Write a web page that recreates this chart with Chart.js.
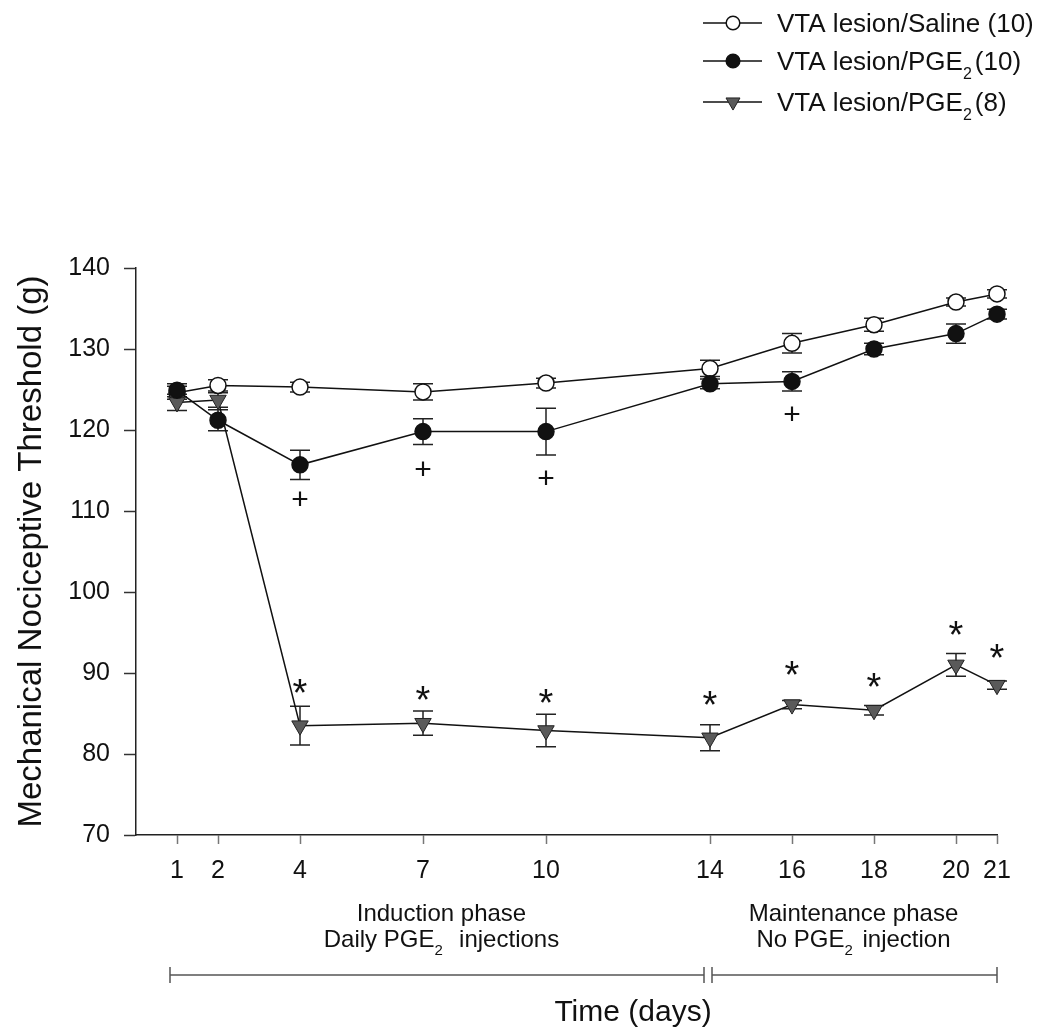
<!DOCTYPE html>
<html>
<head>
<meta charset="utf-8">
<title>Mechanical nociceptive threshold</title>
<script src="https://cdn.jsdelivr.net/npm/chart.js@4.4.1/dist/chart.umd.min.js"></script>
<style>
  html, body { margin: 0; padding: 0; background: #fff; }
  #wrap { width: 1051px; height: 1030px; }
</style>
</head>
<body>
<div id="wrap"><canvas id="chart1" width="1051" height="1030"></canvas></div>
<script>
const FONT = '"Liberation Sans", Arial, Helvetica, sans-serif';

// days of testing
const days = [1, 2, 4, 7, 10, 14, 16, 18, 20, 21];
const yTicks = [70, 80, 90, 100, 110, 120, 130, 140];

// VTA lesion / saline (n = 10)
const salineMean = [124.6, 125.5, 125.3, 124.7, 125.8, 127.6, 130.7, 133.0, 135.8, 136.8];
const salineSem  = [0.8, 0.7, 0.6, 1.0, 0.6, 1.0, 1.2, 0.8, 0.5, 0.5];

// VTA lesion / PGE2 (n = 10)
const pge10Mean = [124.9, 121.2, 115.7, 119.8, 119.8, 125.7, 126.0, 130.0, 131.9, 134.3];
const pge10Sem  = [0.8, 1.3, 1.8, 1.6, 2.9, 0.6, 1.2, 0.7, 1.2, 0.6];

// VTA lesion / PGE2 (n = 8)
const pge8Mean = [123.4, 123.7, 83.5, 83.8, 82.9, 82.0, 86.1, 85.4, 91.0, 88.5];
const pge8Sem  = [1.0, 0.9, 2.4, 1.5, 2.0, 1.6, 0.5, 0.6, 1.4, 0.5];

// significance marks (height in g, null = none)
const starLevels = [null, null, 88.6, 87.8, 87.4, 87.1, 90.8, 89.4, 95.8, 93.0];
const plusLevels = [null, null, 111.6, 115.3, 114.2, null, 122.0, null, null, null];

// legend entries, [text, subscript, text after]
const legendLabels = [
  ['VTA lesion/Saline (10)', '', ''],
  ['VTA lesion/PGE', '2', '(10)'],
  ['VTA lesion/PGE', '2', '(8)']
];

// phase captions under the axis
const phases = [
  { center: 7.45, lines: [['Induction phase'], ['Daily PGE', '2', '  injections']] },
  { center: 17.5, lines: [['Maintenance phase'], ['No PGE', '2', ' injection']] }
];

function font(size) { return size + 'px ' + FONT; }

// text with an optional subscript in the middle
function drawSubText(ctx, parts, x, y, size, align) {
  const subSize = Math.round(size * 0.62);
  const main = parts[0] || '';
  const sub = parts[1] || '';
  const tail = parts[2] || '';
  ctx.font = font(size);
  const w1 = ctx.measureText(main).width;
  const w3 = tail ? ctx.measureText(tail).width : 0;
  ctx.font = font(subSize);
  const w2 = sub ? ctx.measureText(sub).width + 3 : 0;
  const total = w1 + w2 + w3;
  let sx = align === 'left' ? x : x - total / 2;
  ctx.textAlign = 'left';
  ctx.textBaseline = 'alphabetic';
  ctx.font = font(size);
  ctx.fillText(main, sx, y);
  sx += w1;
  if (sub) {
    ctx.font = font(subSize);
    ctx.fillText(sub, sx, y + size * 0.33);
    sx += w2;
  }
  if (tail) {
    ctx.font = font(size);
    ctx.fillText(tail, sx, y);
  }
}

function markerPath(ctx, style, x, y, r) {
  ctx.beginPath();
  if (style === 'triangle') {
    // pointing down, same geometry as Chart.js with rotation 180
    for (let i = 0; i < 3; i++) {
      const a = Math.PI + i * 2 * Math.PI / 3;
      const px = x + Math.sin(a) * r, py = y - Math.cos(a) * r;
      if (i === 0) ctx.moveTo(px, py); else ctx.lineTo(px, py);
    }
    ctx.closePath();
  } else {
    ctx.arc(x, y, r, 0, Math.PI * 2);
  }
}

const extrasPlugin = {
  id: 'extras',
  beforeDatasetsDraw(chart) {
    // SEM bars with caps, under the markers
    const ctx = chart.ctx;
    const xs = chart.scales.x, ys = chart.scales.y;
    ctx.save();
    ctx.strokeStyle = '#222';
    ctx.lineWidth = 1.5;
    chart.data.datasets.forEach(ds => {
      ds.means.forEach((v, i) => {
        const e = ds.errors[i];
        const px = xs.getPixelForValue(days[i]);
        const top = ys.getPixelForValue(v + e), bot = ys.getPixelForValue(v - e);
        ctx.beginPath();
        ctx.moveTo(px, top); ctx.lineTo(px, bot);
        ctx.moveTo(px - 10, top); ctx.lineTo(px + 10, top);
        ctx.moveTo(px - 10, bot); ctx.lineTo(px + 10, bot);
        ctx.stroke();
      });
    });
    ctx.restore();
  },
  afterDraw(chart) {
    const ctx = chart.ctx;
    const xs = chart.scales.x, ys = chart.scales.y;
    ctx.save();
    ctx.fillStyle = '#111';

    // asterisks and plus signs
    ctx.textAlign = 'center';
    ctx.textBaseline = 'alphabetic';
    days.forEach((d, i) => {
      const px = xs.getPixelForValue(d);
      if (starLevels[i] != null) {
        ctx.font = font(38);
        ctx.fillText('*', px, ys.getPixelForValue(starLevels[i]) + 38 * 0.575);
      }
      if (plusLevels[i] != null) {
        ctx.font = font(30);
        ctx.fillText('+', px, ys.getPixelForValue(plusLevels[i]) + 30 * 0.353);
      }
    });

    // legend, top right
    const rows = [23, 61, 102];
    const byLegend = chart.data.datasets.slice().sort((a, b) => a.legendIndex - b.legendIndex);
    byLegend.forEach((ds, k) => {
      const y = rows[k];
      ctx.strokeStyle = '#111';
      ctx.lineWidth = 1.5;
      ctx.beginPath();
      ctx.moveTo(703, y); ctx.lineTo(762, y);
      ctx.stroke();
      markerPath(ctx, ds.pointStyle, 733, y, ds.pointRadius * 0.85);
      ctx.fillStyle = ds.pointBackgroundColor;
      ctx.fill();
      ctx.strokeStyle = ds.pointBorderColor;
      ctx.lineWidth = ds.pointBorderWidth;
      ctx.stroke();
      ctx.fillStyle = '#111';
      drawSubText(ctx, legendLabels[ds.legendIndex], 777, y + 9, 26, 'left');
    });

    // phase captions and brackets
    ctx.fillStyle = '#111';
    phases.forEach(p => {
      const cx = xs.getPixelForValue(p.center);
      drawSubText(ctx, p.lines[0], cx, 921, 24, 'center');
      drawSubText(ctx, p.lines[1], cx, 947, 24, 'center');
    });
    const barY = 975;
    const left = xs.getPixelForValue(1) - 7;
    const brk1 = xs.getPixelForValue(14) - 6;
    const brk2 = xs.getPixelForValue(14) + 2;
    const right = xs.getPixelForValue(21);
    ctx.strokeStyle = '#555';
    ctx.lineWidth = 1.5;
    ctx.beginPath();
    ctx.moveTo(left, barY); ctx.lineTo(brk1, barY);
    ctx.moveTo(brk2, barY); ctx.lineTo(right, barY);
    [left, brk1, brk2, right].forEach(x => {
      ctx.moveTo(x, barY - 8); ctx.lineTo(x, barY + 8);
    });
    ctx.stroke();

    ctx.fillStyle = '#111';
    ctx.font = font(30);
    ctx.textAlign = 'center';
    ctx.textBaseline = 'alphabetic';
    ctx.fillText('Time (days)', 633, 1021);
    ctx.restore();
  }
};

function series(means) {
  return means.map((v, i) => ({ x: days[i], y: v }));
}

const ctx = document.getElementById('chart1').getContext('2d');
const chart = new Chart(ctx, {
  type: 'line',
  data: {
    datasets: [
      {
        legendIndex: 1,
        order: 0,
        data: series(pge10Mean),
        means: pge10Mean,
        errors: pge10Sem,
        borderColor: '#111',
        borderWidth: 1.5,
        pointStyle: 'circle',
        pointRadius: 8,
        pointBackgroundColor: '#111',
        pointBorderColor: '#111',
        pointBorderWidth: 1.5
      },
      {
        legendIndex: 2,
        order: 1,
        data: series(pge8Mean),
        means: pge8Mean,
        errors: pge8Sem,
        borderColor: '#111',
        borderWidth: 1.5,
        pointStyle: 'triangle',
        pointRotation: 180,
        pointRadius: 9.5,
        pointBackgroundColor: '#5a5a5a',
        pointBorderColor: '#222',
        pointBorderWidth: 1
      },
      {
        legendIndex: 0,
        order: 2,
        data: series(salineMean),
        means: salineMean,
        errors: salineSem,
        borderColor: '#111',
        borderWidth: 1.5,
        pointStyle: 'circle',
        pointRadius: 8,
        pointBackgroundColor: '#fff',
        pointBorderColor: '#111',
        pointBorderWidth: 1.5
      }
    ]
  },
  options: {
    responsive: false,
    animation: false,
    clip: false,
    layout: { padding: { top: 268, right: 54, left: 0, bottom: 0 } },
    elements: { line: { tension: 0 } },
    plugins: {
      legend: { display: false },
      tooltip: { enabled: false }
    },
    scales: {
      x: {
        type: 'linear',
        min: 0,
        max: 21,
        afterBuildTicks: s => { s.ticks = days.map(v => ({ value: v })); },
        afterFit: s => { s.height = 195; },
        grid: { drawOnChartArea: false, drawTicks: true, tickLength: 9, tickColor: '#777', tickWidth: 1.5 },
        border: { display: true, color: '#222', width: 1.5 },
        ticks: { font: { family: FONT, size: 25 }, color: '#111', padding: 12, maxRotation: 0, autoSkip: false }
      },
      y: {
        type: 'linear',
        min: 70,
        max: 140,
        afterBuildTicks: s => { s.ticks = yTicks.map(v => ({ value: v })); },
        afterFit: s => { s.width = 136; },
        grid: { drawOnChartArea: false, drawTicks: true, tickLength: 12, tickColor: '#333', tickWidth: 1.5 },
        border: { display: true, color: '#222', width: 1.5 },
        ticks: { font: { family: FONT, size: 25 }, color: '#111', padding: 14 },
        title: {
          display: true,
          text: 'Mechanical Nociceptive Threshold (g)',
          font: { family: FONT, size: 33 },
          color: '#111',
          padding: { top: 12, bottom: 0 }
        }
      }
    }
  },
  plugins: [extrasPlugin]
});
</script>
</body>
</html>
